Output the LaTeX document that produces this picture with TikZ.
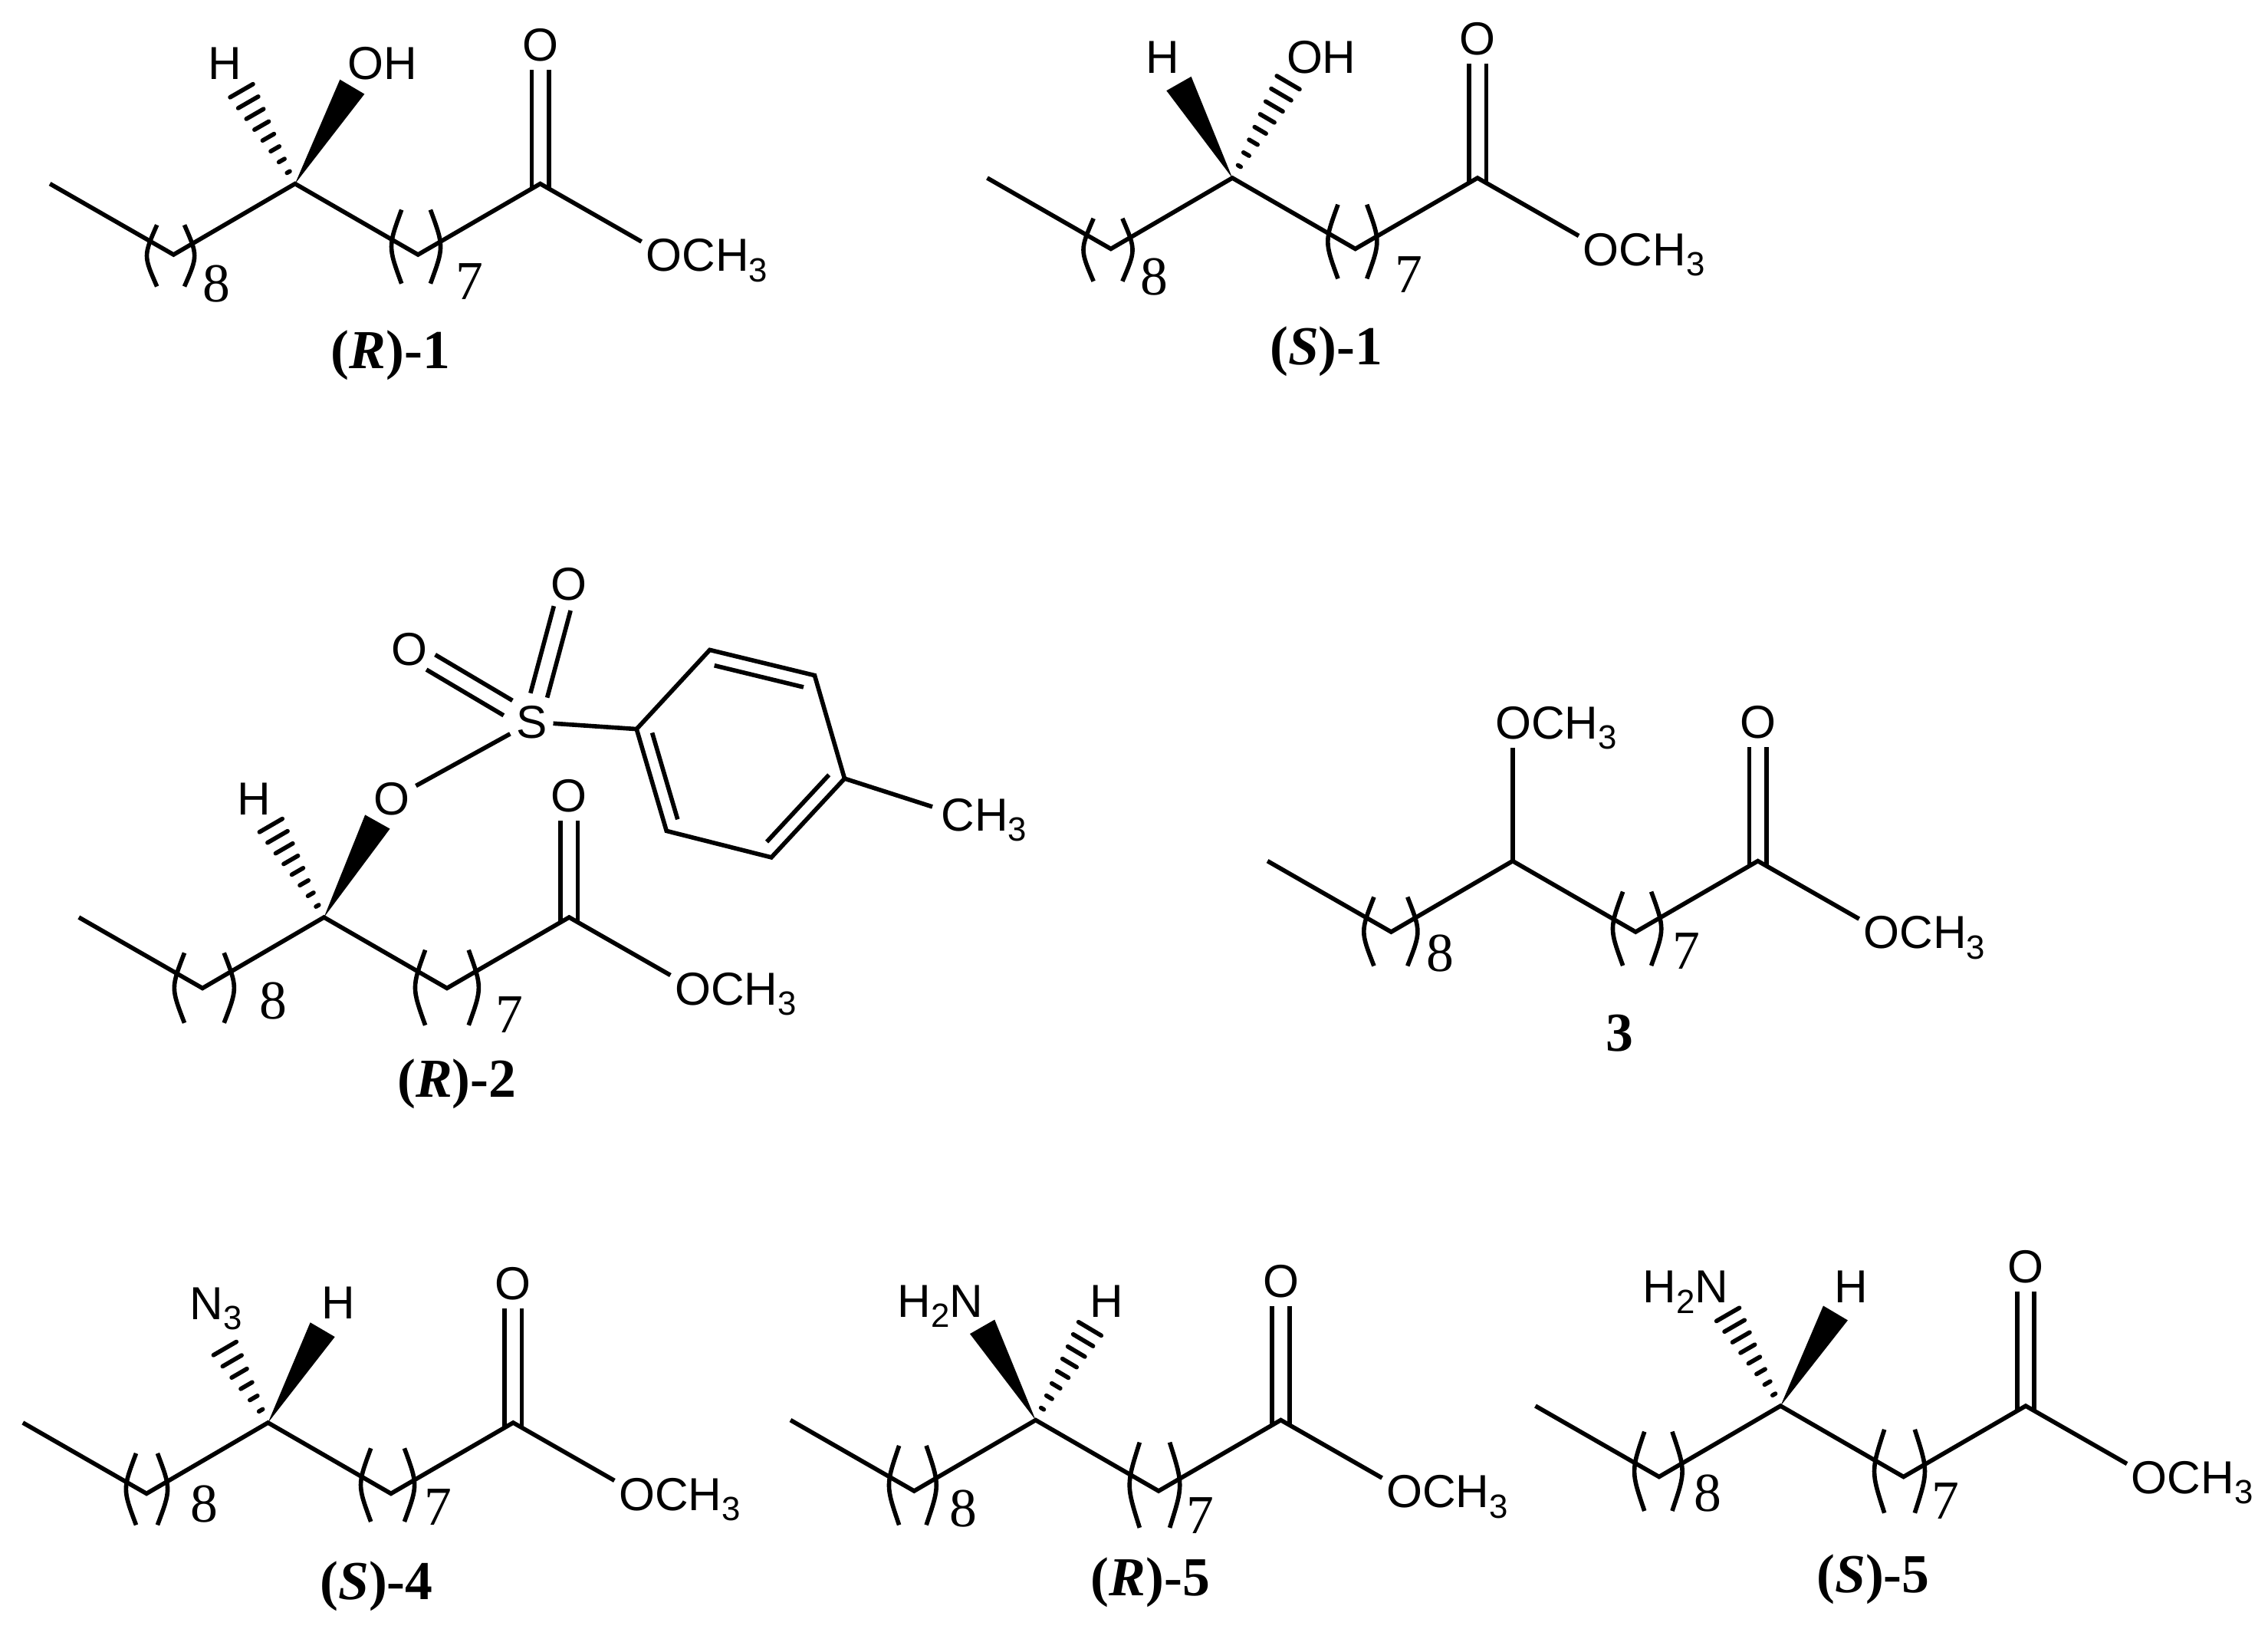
\documentclass[tikz,border=0pt]{standalone}
\usepackage{fontspec}
\setmainfont{Liberation Serif}
\newfontfamily\atomfont{Liberation Sans}
\usetikzlibrary{calc}
\tikzset{
  bond/.style={line width=0.85pt},
  hash/.style={line width=0.85pt,line cap=round},
  atom/.style={font=\atomfont\fontsize{9.1}{10}\selectfont,inner sep=1pt},
  num/.style={font=\fontsize{10.8}{12}\selectfont,inner sep=0pt},
  title/.style={font=\bfseries\fontsize{10.8}{12}\selectfont,inner sep=0pt},
}
\newcommand{\atomsub}[1]{\raisebox{-2pt}{\fontsize{6.6}{7}\selectfont #1}}
\newcommand{\dbl}[3][0.19cm]{%
  \draw[bond,shorten <=#1,shorten >=0.17cm] ($(#2)!1.7pt!90:(#3)$) -- ($(#3)!1.7pt!-90:(#2)$);
  \draw[bond,shorten <=#1,shorten >=0.17cm] ($(#2)!1.7pt!-90:(#3)$) -- ($(#3)!1.7pt!90:(#2)$);}
\newcommand{\wedgebond}[2]{%
  \fill ($(#2)!2.8pt!90:(#1)$) -- (#1) -- ($(#2)!2.8pt!-90:(#1)$) -- cycle;}
\newcommand{\hashbond}[3][8]{%
  \coordinate (#3p) at ($(#3)!2.6pt!90:(#2)$);
  \coordinate (#3q) at ($(#3)!2.6pt!-90:(#2)$);
  \foreach \i in {1,...,#1}
    \draw[hash] ($(#2)!\i/#1!(#3p)$) -- ($(#2)!\i/#1!(#3q)$);}
\newcommand{\chain}[4][96]{%
  \begin{scope}[shift={(#3,#4)}]
    \coordinate (#2a) at (-169.5,0);
    \coordinate (#2b) at (-84,49);
    \coordinate (#2c) at (0,0);
    \coordinate (#2d) at (85,49);
    \coordinate (#2e) at (169.5,0);
    \coordinate (#2f) at (239.5,40);
    \node[atom] (#2o) at (169.5,-#1) {O};
    \node[atom,inner sep=0pt,anchor=base west] (#2m) at (241.9,60.6) {OCH\atomsub{3}};
    \draw[bond] (#2a) -- (#2b) -- (#2c) -- (#2d) -- (#2e) -- (#2f);
  \end{scope}
  \dbl[-0.03cm]{#2e}{#2o}}
\newcommand{\repunit}[8]{%
  \draw[bond] (#2-#5+7,#3) .. controls (#2-#5-2.3,{(#3+#4)/2}) .. (#2-#5+7,#4);
  \draw[bond] (#2+#5-7,#3) .. controls (#2+#5+2.3,{(#3+#4)/2}) .. (#2+#5-7,#4);
  \node[num] (#1) at (#6,#7) {#8};}

\begin{document}
\begin{tikzpicture}[x=0.01cm,y=-0.01cm]
\useasboundingbox (0,0) rectangle (1568,1132.3);

\chain{rone}{204}{127}
\repunit{rone8}{118}{155.5}{198}{16.5}{149.6}{196}{8}
\repunit{rone7}{287.6}{145}{196}{17}{324.7}{194.4}{7}
\node[atom] (ronehl) at (155.4,43.8) {H};
\node[atom] (roneoh) at (264.5,43.8) {OH};
\coordinate (ronew) at (243.5,60);
\coordinate (roneh) at (167,62.7);
\wedgebond{ronec}{ronew}
\hashbond{ronec}{roneh}
\node[title] (ronet) at (270,245.6) {(\textit{R})-1};

\chain{sone}{852}{123}
\repunit{sone8}{766}{151}{194.4}{17}{798}{191.2}{8}
\repunit{sone7}{935}{141.4}{192.6}{17}{973.8}{190}{7}
\node[atom] (sonehl) at (803.8,39.8) {H};
\node[atom] (soneoh) at (913.5,39.8) {OH};
\coordinate (sonew) at (815,57.8);
\coordinate (soneh) at (890.6,57.1);
\wedgebond{sonec}{sonew}
\hashbond{sonec}{soneh}
\node[title] (sonet) at (917,243) {(\textit{S})-1};

\chain[84]{rtwo}{224}{634}
\repunit{rtwo8}{141.2}{658.6}{707}{20.7}{188.8}{691.6}{8}
\repunit{rtwo7}{309}{656.6}{708.6}{22}{352.2}{701.3}{7}
\node[atom] (rtwohl) at (175.6,552.3) {H};
\node[atom] (rtwooe) at (270.9,552.3) {O};
\coordinate (rtwow) at (261,568);
\coordinate (rtwoh) at (187.3,570.5);
\wedgebond{rtwoc}{rtwow}
\hashbond{rtwoc}{rtwoh}
\node[atom] (sulf) at (367.6,499) {S};
\node[atom] (otop) at (393.1,404) {O};
\node[atom] (oleft) at (283.2,449) {O};
\dbl{sulf}{otop}
\dbl{sulf}{oleft}
\draw[bond] (sulf) -- (rtwooe);
\coordinate (t1) at (440.1,503.9);
\coordinate (t2) at (490.7,449.2);
\coordinate (t3) at (563.2,466.8);
\coordinate (t4) at (583.9,538.1);
\coordinate (t5) at (533.3,592.6);
\coordinate (t6) at (460.8,574.3);
\coordinate (tc) at (512,521);
\draw[bond] (t1) -- (t2) -- (t3) -- (t4) -- (t5) -- (t6) -- cycle;
\foreach \a/\b in {2/3,4/5,6/1}
  \draw[bond] ($(t\a)!0.15!(tc)$) -- ($(t\b)!0.15!(tc)$);
\draw[bond] (sulf) -- (t1);
\node[atom,inner sep=0pt,anchor=base west] (tolme) at (650,574.3) {CH\atomsub{3}};
\coordinate (tolb) at (644.6,557.6);
\draw[bond] (t4) -- (tolb);
\node[title] (rtwot) at (315.8,749) {(\textit{R})-2};

\chain{mthree}{1045.8}{595.1}
\repunit{mthree8}{961.5}{620}{667.6}{18.6}{995.8}{659.1}{8}
\repunit{mthree7}{1131.8}{616.3}{667.4}{16.8}{1165.8}{657.3}{7}
\node[atom,inner sep=0pt,anchor=base west] (mthreeom) at (1033,510.7) {OCH\atomsub{3}};
\coordinate (mthreeb) at (1045.8,517);
\draw[bond] (mthreec) -- (mthreeb);
\node[title] (mthreet) at (1120,713.9) {3};

\chain{sfour}{185.3}{983.3}
\repunit{sfour8}{101.5}{1004.5}{1054}{14.4}{141.3}{1039.3}{8}
\repunit{sfour7}{268}{1001}{1051.7}{18.6}{303}{1041.7}{7}
\node[atom,inner sep=0pt,anchor=base west] (sfourn) at (130.5,912) {N\atomsub{3}};
\node[atom] (sfourhl) at (234,900.7) {H};
\coordinate (sfourw) at (223,919);
\coordinate (sfourh) at (155.5,932);
\wedgebond{sfourc}{sfourw}
\hashbond[6]{sfourc}{sfourh}
\node[title] (sfourt) at (260.3,1096.4) {(\textit{S})-4};

\chain{rfive}{716}{981.5}
\repunit{rfive8}{631}{999.2}{1054}{16.4}{666}{1042.5}{8}
\repunit{rfive7}{798.3}{996.9}{1055.9}{17.4}{829.9}{1047.4}{7}
\node[atom,inner sep=0pt,anchor=base west] (rfiven) at (620,910.3) {H\atomsub{2}N};
\node[atom] (rfivehl) at (765,899.3) {H};
\coordinate (rfivew) at (679.1,917);
\coordinate (rfiveh) at (753.5,918.4);
\wedgebond{rfivec}{rfivew}
\hashbond{rfivec}{rfiveh}
\node[title] (rfivet) at (795.4,1093.7) {(\textit{R})-5};

\chain{sfive}{1231}{971.7}
\repunit{sfive8}{1146.5}{989.5}{1044.3}{16.6}{1180.7}{1032}{8}
\repunit{sfive7}{1313.3}{988}{1045.7}{17.5}{1345}{1037.6}{7}
\node[atom,inner sep=0pt,anchor=base west] (sfiven) at (1135,900.6) {H\atomsub{2}N};
\node[atom] (sfivehl) at (1280,889.6) {H};
\coordinate (sfivew) at (1269,907.5);
\coordinate (sfiveh) at (1194.6,908.5);
\wedgebond{sfivec}{sfivew}
\hashbond{sfivec}{sfiveh}
\node[title] (sfivet) at (1295,1091.6) {(\textit{S})-5};

\end{tikzpicture}
\end{document}
